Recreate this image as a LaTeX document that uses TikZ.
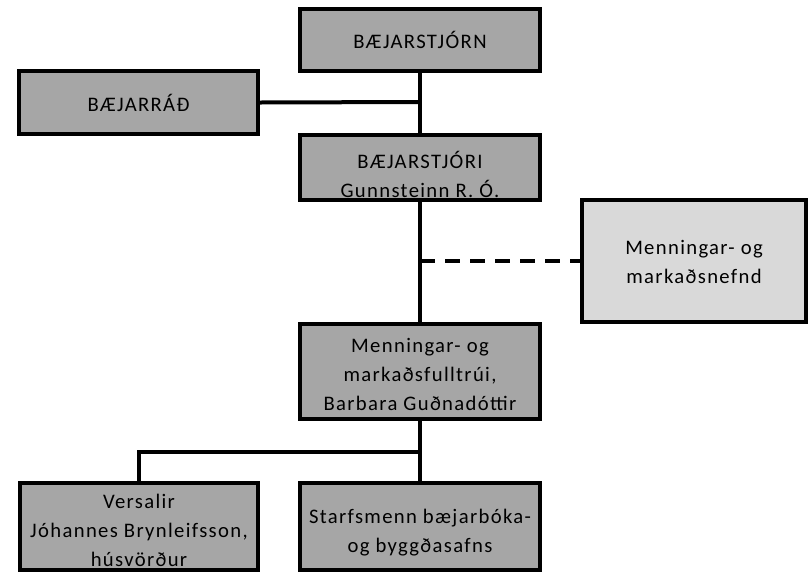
\documentclass[tikz,border=0pt]{standalone}
\usepackage{fontspec}
\setmainfont[LetterSpace=6.5]{Carlito}
\usepackage{tikz}

\tikzset{
    orgbox/.style={draw, line width=3pt, fill=black!35, align=center,
        inner sep=0pt, font=\fontsize{15.5}{21.5}\selectfont},
    nefndbox/.style={orgbox, fill=black!15},
    lastline/.style={text height=#1, text depth=0pt},
    orgline/.style={line width=3pt},
}

\begin{document}
\begin{tikzpicture}[x=0.75pt, y=-0.75pt]
        \useasboundingbox (0, 0) rectangle (810, 572);

        \node[orgbox, minimum width=180pt, minimum height=46.5pt]
            (stjorn) at (420, 40) {BÆJARSTJÓRN};
        \node[orgbox, minimum width=179.25pt, minimum height=47.25pt]
            (rad) at (138.5, 102.5) {BÆJARRÁÐ};
        \node[orgbox, lastline=44.25pt, minimum width=180pt, minimum height=48.75pt]
            (stjori) at (420, 167.5) {BÆJARSTJÓRI\\Gunnsteinn R. Ó.};
        \node[nefndbox, lastline=33pt, minimum width=168pt, minimum height=91.5pt]
            (nefnd) at (694, 261) {Menningar- og\\markaðsnefnd};
        \node[orgbox, lastline=57.75pt, minimum width=180pt, minimum height=71.25pt]
            (fulltrui) at (420, 371.5) {Menningar- og\\markaðsfulltrúi,\\Barbara Guðnadóttir};
        \node[orgbox, lastline=59.25pt, minimum width=178.5pt, minimum height=65.25pt]
            (versalir) at (139, 526.5) {Versalir\\Jóhannes Brynleifsson,\\húsvörður};
        \node[orgbox, lastline=38.25pt, minimum width=180pt, minimum height=65.25pt]
            (safn) at (420, 526.5) {Starfsmenn bæjarbóka-\\og byggðasafns};

        \coordinate (radjoin) at (420, 102);
        \coordinate (nefndjoin) at (420, 261);
        \coordinate (split) at (420, 452);

        \draw[orgline] (stjorn.south) -- (stjori.north);
        \draw[orgline] (rad.east) -- (radjoin);
        \draw[orgline] (stjori.south) -- (fulltrui.north);
        \draw[orgline, dash pattern=on 11.25pt off 7.5pt] (nefndjoin) -- (nefnd.west);
        \draw[orgline] (fulltrui.south) -- (safn.north);
        \draw[orgline] (split) -| (versalir.north);
    \end{tikzpicture}
\end{document}
